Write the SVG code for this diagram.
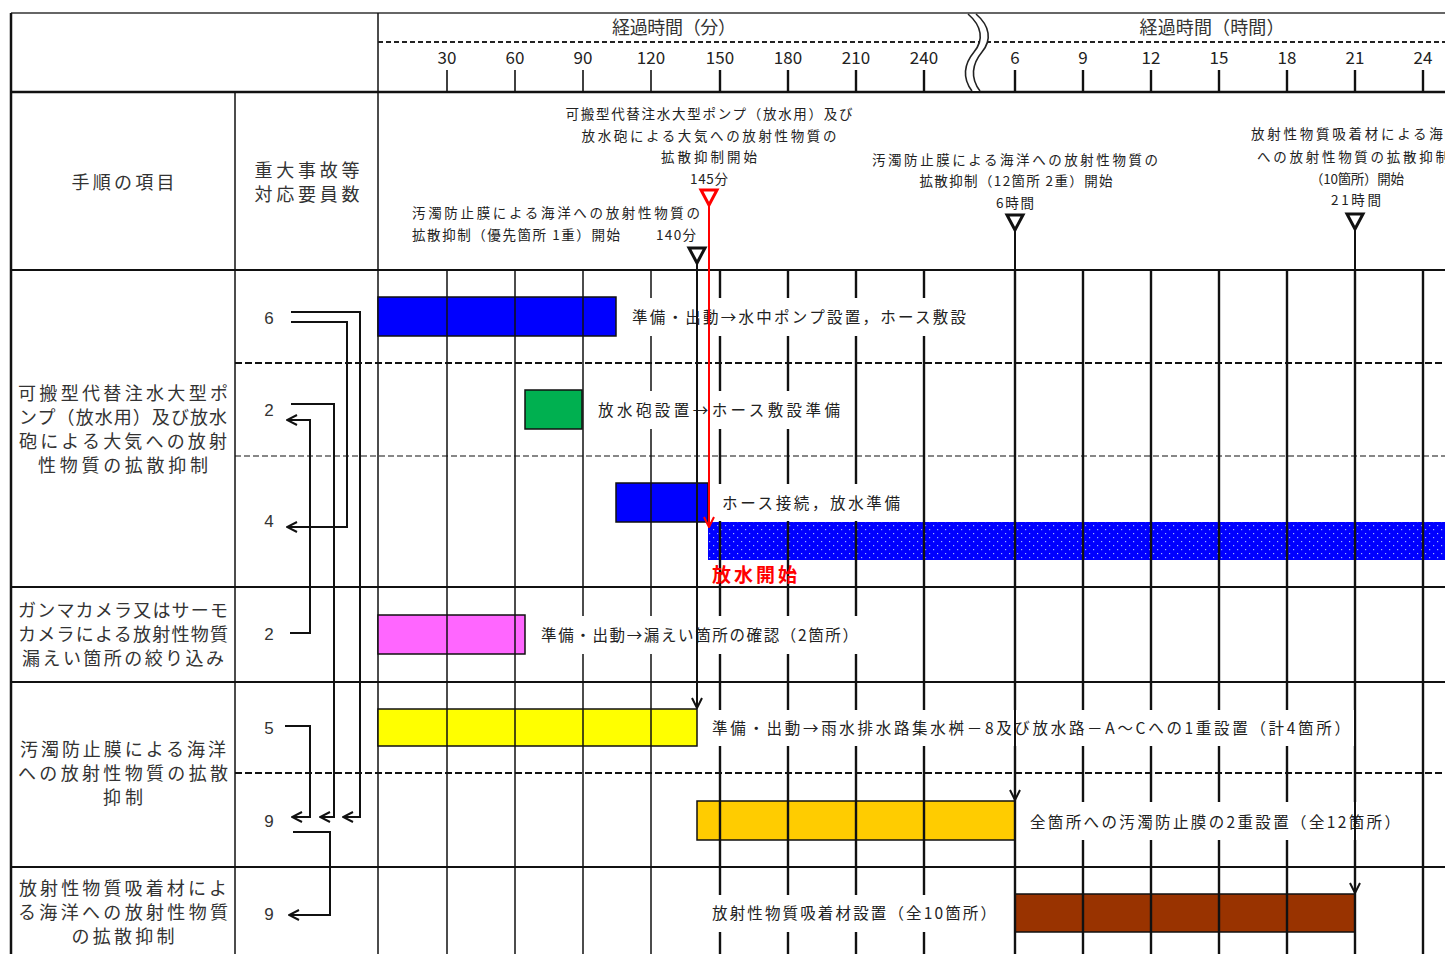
<svg xmlns="http://www.w3.org/2000/svg" width="1445" height="954" viewBox="0 0 1445 954">
<defs>
<style>
text{font-family:"Noto Sans CJK JP","Liberation Sans",sans-serif;fill:#222;dominant-baseline:central}
.hd{font-size:18px;fill:#333}
.tk{font-family:"Liberation Sans","Noto Sans CJK JP",sans-serif;font-size:17px;fill:#333;text-anchor:middle}
.lc{font-size:18px;text-anchor:middle;fill:#333}
.num{font-family:"Liberation Sans",sans-serif;font-size:17px;text-anchor:middle;fill:#333}
.an{font-size:13.5px;fill:#222}
.bl{font-size:15.5px;fill:#222}
.box{fill:#fff;stroke:none}
.bar{stroke:#111;stroke-width:1.5}
.g1{stroke:#111;stroke-width:1.5}
.g2{stroke:#111;stroke-width:2.4}
.hl{stroke:#111;stroke-width:2}
.cn{fill:none;stroke:#111;stroke-width:2}
</style>
<pattern id="dots" width="8" height="8" patternUnits="userSpaceOnUse">
<rect width="8" height="8" fill="#0000ff"/>
<rect x="1" y="1" width="1.2" height="1.2" fill="#9fb0ff"/>
<rect x="5" y="5" width="1.2" height="1.2" fill="#9fb0ff"/>
</pattern>
<marker id="ah" viewBox="0 0 12 12" refX="11" refY="6" markerWidth="12" markerHeight="12" markerUnits="userSpaceOnUse" orient="auto">
<path d="M1,1 L11,6 L1,11" fill="none" stroke="#111" stroke-width="2"/>
</marker>
<marker id="ahr" viewBox="0 0 12 12" refX="11" refY="6" markerWidth="12" markerHeight="12" markerUnits="userSpaceOnUse" orient="auto">
<path d="M1,1 L11,6 L1,11" fill="none" stroke="#ff0000" stroke-width="2"/>
</marker>
</defs>
<rect width="1445" height="954" fill="#fff"/>

<g id="table">
<line x1="11" y1="13" x2="1445" y2="13" stroke="#666" stroke-width="2"/>
<line x1="11" y1="13" x2="11" y2="954" stroke="#111" stroke-width="2.5"/>
<line x1="378" y1="13" x2="378" y2="954" class="g1"/>
<line x1="235" y1="92" x2="235" y2="954" class="g1"/>
<line x1="11" y1="92" x2="1445" y2="92" stroke="#111" stroke-width="2.5"/>
<line x1="11" y1="270" x2="1445" y2="270" class="hl"/>
<line x1="11" y1="587" x2="1445" y2="587" class="hl"/>
<line x1="11" y1="682" x2="1445" y2="682" class="hl"/>
<line x1="11" y1="867" x2="1445" y2="867" class="hl"/>
<line x1="235" y1="363" x2="1445" y2="363" stroke="#111" stroke-width="2" stroke-dasharray="7 3"/>
<line x1="235" y1="456" x2="1445" y2="456" stroke="#111" stroke-width="1.2" stroke-dasharray="6 3"/>
<line x1="235" y1="773" x2="1445" y2="773" stroke="#111" stroke-width="2" stroke-dasharray="7 3"/>
</g>

<g id="axis">
<line x1="378" y1="42" x2="1445" y2="42" stroke="#222" stroke-width="2.2" stroke-dasharray="5 3"/>
<text class="hd" x="674" y="26" text-anchor="middle" textLength="124" lengthAdjust="spacing">経過時間（分）</text>
<text class="hd" x="1212" y="26" text-anchor="middle" textLength="145" lengthAdjust="spacing">経過時間（時間）</text>
<g class="tk">
<text x="447" y="56">30</text><text x="515" y="56">60</text><text x="583" y="56">90</text><text x="651" y="56">120</text>
<text x="720" y="56">150</text><text x="788" y="56">180</text><text x="856" y="56">210</text><text x="924" y="56">240</text>
<text x="1015" y="56">6</text><text x="1083" y="56">9</text><text x="1151" y="56">12</text><text x="1219" y="56">15</text>
<text x="1287" y="56">18</text><text x="1355" y="56">21</text><text x="1423" y="56">24</text>
</g>
<g stroke="#111" stroke-width="1.6">
<line x1="447" y1="70" x2="447" y2="92"/><line x1="515" y1="70" x2="515" y2="92"/><line x1="583" y1="70" x2="583" y2="92"/><line x1="651" y1="70" x2="651" y2="92"/>
</g>
<g stroke="#111" stroke-width="2.4">
<line x1="720" y1="70" x2="720" y2="92"/><line x1="788" y1="70" x2="788" y2="92"/><line x1="856" y1="70" x2="856" y2="92"/><line x1="924" y1="70" x2="924" y2="92"/>
<line x1="1015" y1="70" x2="1015" y2="92"/><line x1="1083" y1="70" x2="1083" y2="92"/><line x1="1151" y1="70" x2="1151" y2="92"/><line x1="1219" y1="70" x2="1219" y2="92"/>
<line x1="1287" y1="70" x2="1287" y2="92"/><line x1="1355" y1="70" x2="1355" y2="92"/><line x1="1423" y1="70" x2="1423" y2="92"/>
</g>
<path d="M968,14 C982,26 984,40 974,52 C964,64 962,78 972,91 L980,91 C970,78 972,64 982,52 C992,40 990,26 976,14 Z" fill="#fff" stroke="none"/>
<path d="M968,14 C982,26 984,40 974,52 C964,64 962,78 972,91" fill="none" stroke="#222" stroke-width="1.6"/>
<path d="M976,14 C990,26 992,40 982,52 C972,64 970,78 980,91" fill="none" stroke="#222" stroke-width="1.6"/>
</g>

<g id="bars">
<rect class="bar" x="378" y="297" width="238" height="39" fill="#0000ff"/>
<rect class="bar" x="525" y="390" width="57" height="39" fill="#00b050"/>
<rect class="bar" x="616" y="483" width="92" height="39" fill="#0000ff"/>
<rect x="708" y="522" width="737" height="38" fill="url(#dots)"/>
<rect class="bar" x="378" y="615" width="147" height="39" fill="#ff66ff"/>
<rect class="bar" x="378" y="709" width="319" height="37" fill="#ffff00"/>
<rect class="bar" x="697" y="801" width="318" height="39" fill="#ffcc00"/>
<rect class="bar" x="1015" y="894" width="340" height="38" fill="#993300"/>
</g>

<g id="grid">
<g class="g1">
<line x1="447" y1="270" x2="447" y2="954"/><line x1="515" y1="270" x2="515" y2="954"/><line x1="583" y1="270" x2="583" y2="954"/><line x1="651" y1="270" x2="651" y2="954"/>
</g>
<g class="g2">
<line x1="720" y1="270" x2="720" y2="954"/><line x1="788" y1="270" x2="788" y2="954"/><line x1="856" y1="270" x2="856" y2="954"/><line x1="924" y1="270" x2="924" y2="954"/>
<line x1="1015" y1="270" x2="1015" y2="954"/><line x1="1083" y1="270" x2="1083" y2="954"/><line x1="1151" y1="270" x2="1151" y2="954"/><line x1="1219" y1="270" x2="1219" y2="954"/>
<line x1="1287" y1="270" x2="1287" y2="954"/><line x1="1355" y1="270" x2="1355" y2="954"/><line x1="1423" y1="270" x2="1423" y2="954"/>
</g>
</g>

<g id="left-labels">
<text class="lc" x="123" y="181" textLength="103" lengthAdjust="spacing">手順の項目</text>
<text class="lc" x="307" y="169" textLength="105" lengthAdjust="spacing">重大事故等</text>
<text class="lc" x="307" y="193" textLength="105" lengthAdjust="spacing">対応要員数</text>
<text class="lc" x="123" y="392" textLength="210" lengthAdjust="spacing">可搬型代替注水大型ポ</text>
<text class="lc" x="123" y="416" textLength="208" lengthAdjust="spacing">ンプ（放水用）及び放水</text>
<text class="lc" x="123" y="440" textLength="208" lengthAdjust="spacing">砲による大気への放射</text>
<text class="lc" x="123" y="464" textLength="170" lengthAdjust="spacing">性物質の拡散抑制</text>
<text class="lc" x="123" y="609" textLength="210" lengthAdjust="spacing">ガンマカメラ又はサーモ</text>
<text class="lc" x="123" y="633" textLength="210" lengthAdjust="spacing">カメラによる放射性物質</text>
<text class="lc" x="123" y="657" textLength="202" lengthAdjust="spacing">漏えい箇所の絞り込み</text>
<text class="lc" x="123" y="748" textLength="206" lengthAdjust="spacing">汚濁防止膜による海洋</text>
<text class="lc" x="123" y="772" textLength="210" lengthAdjust="spacing">への放射性物質の拡散</text>
<text class="lc" x="123" y="796" textLength="40" lengthAdjust="spacing">抑制</text>
<text class="lc" x="123" y="887" textLength="208" lengthAdjust="spacing">放射性物質吸着材によ</text>
<text class="lc" x="123" y="911" textLength="210" lengthAdjust="spacing">る海洋への放射性物質</text>
<text class="lc" x="123" y="935" textLength="103" lengthAdjust="spacing">の拡散抑制</text>
</g>

<g id="counts">
<text class="num" x="269" y="318">6</text>
<text class="num" x="269" y="410">2</text>
<text class="num" x="269" y="521">4</text>
<text class="num" x="269" y="634">2</text>
<text class="num" x="269" y="728">5</text>
<text class="num" x="269" y="821">9</text>
<text class="num" x="269" y="914">9</text>
</g>

<g id="bar-labels">
<rect class="box" x="626" y="298" width="346" height="38"/>
<text class="bl" x="632" y="316" textLength="334" lengthAdjust="spacing">準備・出動→水中ポンプ設置，ホース敷設</text>
<rect class="box" x="592" y="391" width="254" height="38"/>
<text class="bl" x="598" y="409" textLength="242" lengthAdjust="spacing">放水砲設置→ホース敷設準備</text>
<rect class="box" x="716" y="484" width="190" height="37"/>
<text class="bl" x="722" y="502" textLength="178" lengthAdjust="spacing">ホース接続，放水準備</text>
<text x="712" y="573" font-size="19" font-weight="bold" style="fill:#ff0000" textLength="85" lengthAdjust="spacing">放水開始</text>
<rect class="box" x="535" y="616" width="329" height="38"/>
<text class="bl" x="541" y="634" textLength="317" lengthAdjust="spacing">準備・出動→漏えい箇所の確認（2箇所）</text>
<rect class="box" x="706" y="710" width="650" height="36"/>
<text class="bl" x="712" y="727" textLength="638" lengthAdjust="spacing">準備・出動→雨水排水路集水桝－8及び放水路－A～Cへの1重設置（計4箇所）</text>
<rect class="box" x="1024" y="802" width="382" height="38"/>
<text class="bl" x="1030" y="821" textLength="370" lengthAdjust="spacing">全箇所への汚濁防止膜の2重設置（全12箇所）</text>
<rect class="box" x="706" y="895" width="296" height="37"/>
<text class="bl" x="712" y="912" textLength="284" lengthAdjust="spacing">放射性物質吸着材設置（全10箇所）</text>
</g>

<g id="milestone-145">
<text class="an" x="709" y="113" text-anchor="middle" textLength="287" lengthAdjust="spacing">可搬型代替注水大型ポンプ（放水用）及び</text>
<text class="an" x="709" y="135" text-anchor="middle" textLength="255" lengthAdjust="spacing">放水砲による大気への放射性物質の</text>
<text class="an" x="709" y="156" text-anchor="middle" textLength="96" lengthAdjust="spacing">拡散抑制開始</text>
<text class="an" x="709" y="178" text-anchor="middle" textLength="38" lengthAdjust="spacing">145分</text>
<path d="M701,190 L717,190 L709,205 Z" fill="none" stroke="#ff0000" stroke-width="3" stroke-linejoin="miter"/>
</g>
<g id="milestone-140">
<text class="an" x="412" y="212" textLength="288" lengthAdjust="spacing">汚濁防止膜による海洋への放射性物質の</text>
<text class="an" x="412" y="234" textLength="208" lengthAdjust="spacing">拡散抑制（優先箇所 1重）開始</text>
<text class="an" x="656" y="234" textLength="40" lengthAdjust="spacing">140分</text>
<path d="M689,248 L705,248 L697,263 Z" fill="none" stroke="#111" stroke-width="3"/>
</g>
<g id="milestone-6h">
<text class="an" x="1015" y="159" text-anchor="middle" textLength="286" lengthAdjust="spacing">汚濁防止膜による海洋への放射性物質の</text>
<text class="an" x="1016" y="180" text-anchor="middle" textLength="193" lengthAdjust="spacing">拡散抑制（12箇所 2重）開始</text>
<text class="an" x="1015" y="202" text-anchor="middle" textLength="38" lengthAdjust="spacing">6時間</text>
<path d="M1007,215 L1023,215 L1015,230 Z" fill="none" stroke="#111" stroke-width="3"/>
</g>
<g id="milestone-21h">
<text class="an" x="1251" y="133" textLength="208" lengthAdjust="spacing">放射性物質吸着材による海洋</text>
<text class="an" x="1257" y="156" textLength="192" lengthAdjust="spacing">への放射性物質の拡散抑制</text>
<text class="an" x="1357" y="178" text-anchor="middle" textLength="94" lengthAdjust="spacing">（10箇所）開始</text>
<text class="an" x="1356" y="199" text-anchor="middle" textLength="50" lengthAdjust="spacing">21時間</text>
<path d="M1347,214 L1363,214 L1355,229 Z" fill="none" stroke="#111" stroke-width="3"/>
</g>

<g id="connectors">
<path class="cn" d="M709,205 V527" style="stroke:#ff0000" marker-end="url(#ahr)"/>
<path class="cn" d="M697,263 V708" marker-end="url(#ah)"/>
<path class="cn" d="M1015,230 V800" stroke-width="2.6" marker-end="url(#ah)"/>
<path class="cn" d="M1355,229 V893" stroke-width="2.6" marker-end="url(#ah)"/>
<path class="cn" d="M291,312 H360 V817 H343" marker-end="url(#ah)"/>
<path class="cn" d="M291,322 H347 V527 H287" marker-end="url(#ah)"/>
<path class="cn" d="M291,404 H334 V817 H320" stroke-width="1.5" marker-end="url(#ah)"/>
<path class="cn" d="M290,633 H310 V420 H287" marker-end="url(#ah)"/>
<path class="cn" d="M285,726 H310 V817 H292" marker-end="url(#ah)"/>
<path class="cn" d="M293,832 H330 V915 H289" marker-end="url(#ah)"/>
</g>
</svg>
